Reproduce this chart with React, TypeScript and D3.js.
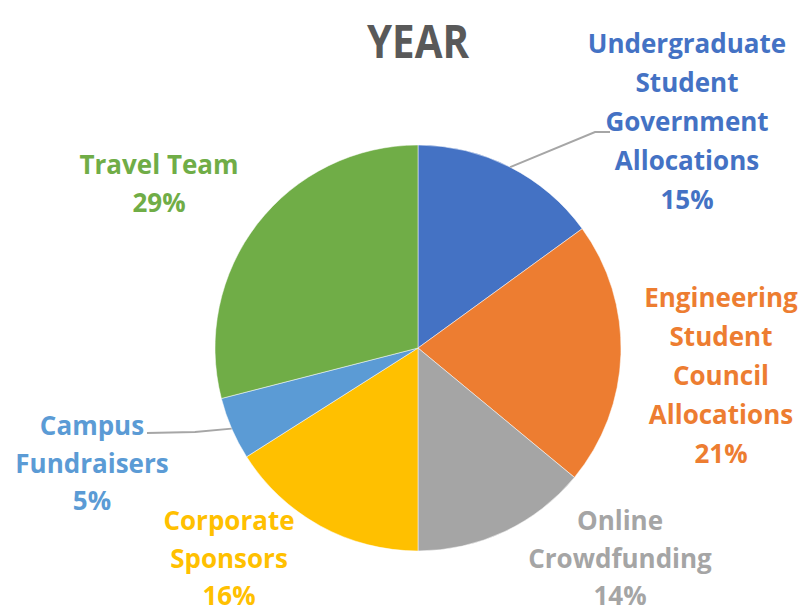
import React from "react";
import * as d3 from "d3";

const categories = [
  "Undergraduate Student Government Allocations",
  "Engineering Student Council Allocations",
  "Online Crowdfunding",
  "Corporate Sponsors",
  "Campus Fundraisers",
  "Travel Team",
];
const values = [15, 21, 14, 16, 5, 29];
const colors = ["#4472C4", "#ED7D31", "#A5A5A5", "#FFC000", "#5B9BD5", "#70AD47"];
const labelLines = [
  ["Undergraduate", "Student", "Government", "Allocations"],
  ["Engineering", "Student", "Council", "Allocations"],
  ["Online", "Crowdfunding"],
  ["Corporate", "Sponsors"],
  ["Campus", "Fundraisers"],
  ["Travel Team"],
];
const titleText = "YEAR";

// layout (label anchor centers, first line center y)
const labelLayout = [
  { x: 687, y: 44, lh: 39 },
  { x: 721, y: 298, lh: 39 },
  { x: 620, y: 521, lh: 37.5 },
  { x: 229, y: 521, lh: 37.5 },
  { x: 92, y: 426, lh: 37.5 },
  { x: 159, y: 165, lh: 38 },
];
const leaders: Record<number, [number, number][]> = {
  0: [[595, 132], [610, 132]],
  4: [[195, 432], [147, 433]],
};

const W = 802;
const H = 608;
const cx = 418;
const cy = 348;
const R = 203;
const FS = 26;
const FONT = "'Open Sans', 'DejaVu Sans', sans-serif";

export default function App() {
  const pie = d3
    .pie<number>()
    .sort(null)
    .value((d) => d)
    .startAngle(0)
    .endAngle(2 * Math.PI);
  const arcs = pie(values);
  const arc = d3.arc<d3.PieArcDatum<number>>().innerRadius(0).outerRadius(R);
  const total = d3.sum(values);

  return (
    <svg
      width={W}
      height={H}
      style={{ position: "absolute", left: 0, top: 0, background: "#fff" }}
      fontFamily={FONT}
    >
      <rect width={W} height={H} fill="#fff" />
      <text
        x={418}
        y={58}
        textAnchor="middle"
        fontSize={46}
        fontWeight={700}
        fill="#595959"
        textLength={102}
        lengthAdjust="spacingAndGlyphs"
      >
        {titleText}
      </text>
      <g transform={`translate(${cx},${cy})`}>
        {arcs.map((a, i) => (
          <path key={categories[i]} d={arc(a) || ""} fill={colors[i]} stroke="#fff" strokeWidth={0.5} />
        ))}
      </g>
      {arcs.map((a, i) => {
        const pts = leaders[i];
        if (!pts) return null;
        const mid = (a.startAngle + a.endAngle) / 2;
        const sx = cx + R * Math.sin(mid);
        const sy = cy - R * Math.cos(mid);
        const all = [[sx, sy], ...pts] as [number, number][];
        return (
          <path
            key={"l" + i}
            d={d3.line()(all) || ""}
            fill="none"
            stroke="#A6A6A6"
            strokeWidth={2}
          />
        );
      })}
      {categories.map((c, i) => {
        const L = labelLayout[i];
        const lines = [...labelLines[i], `${Math.round((values[i] / total) * 100)}%`];
        return (
          <text
            key={"t" + c}
            textAnchor="middle"
            fontSize={FS}
            fontWeight={700}
            fill={colors[i]}
          >
            {lines.map((ln, j) => (
              <tspan key={j} x={L.x} y={L.y + j * L.lh + FS * 0.36}>
                {ln}
              </tspan>
            ))}
          </text>
        );
      })}
    </svg>
  );
}
